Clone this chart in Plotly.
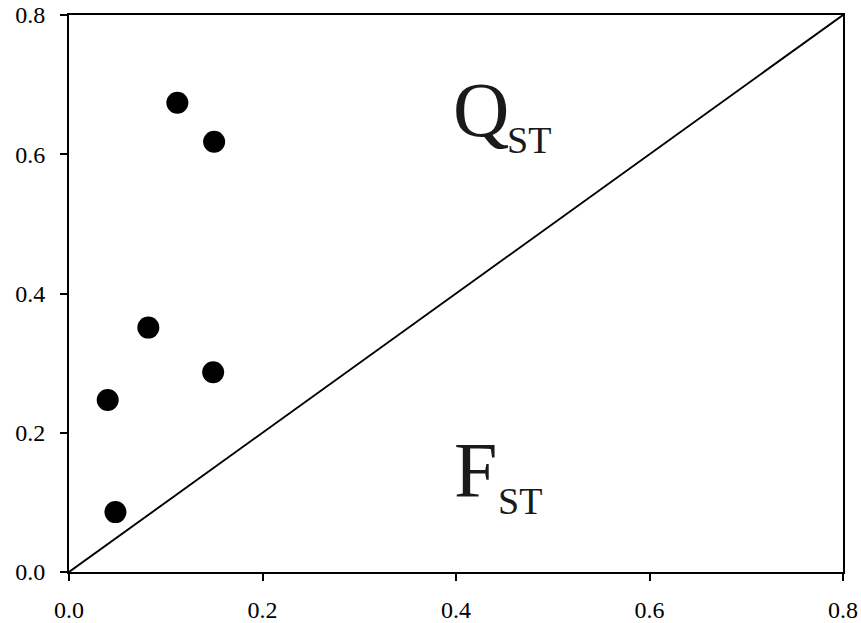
import plotly.graph_objects as go

# Population values: F_ST (x) against Q_ST (y)
fst = [0.112, 0.150, 0.082, 0.149, 0.040, 0.048]
qst = [0.674, 0.618, 0.351, 0.287, 0.247, 0.086]

# 1:1 reference line
line_x = [0.0, 0.8]
line_y = [0.0, 0.8]

tick_vals = [0.0, 0.2, 0.4, 0.6, 0.8]
tick_text = ["0.0", "0.2", "0.4", "0.6", "0.8"]

font_family = "Liberation Serif, Times New Roman, serif"

fig = go.Figure()
fig.add_trace(go.Scatter(
    x=line_x, y=line_y, mode="lines",
    line=dict(color="black", width=1.9),
    hoverinfo="skip", showlegend=False, cliponaxis=False,
))
fig.add_trace(go.Scatter(
    x=fst, y=qst, mode="markers",
    marker=dict(color="black", size=22, line=dict(width=0)),
    showlegend=False,
))

axis_common = dict(
    range=[0, 0.8],
    tickmode="array",
    tickvals=tick_vals,
    ticktext=tick_text,
    ticks="outside",
    ticklen=7,
    tickwidth=2,
    tickcolor="black",
    showline=True,
    linecolor="black",
    linewidth=2,
    mirror=True,
    showgrid=False,
    zeroline=False,
    automargin=False,
    tickfont=dict(family=font_family, size=24, color="black"),
)
fig.update_xaxes(**axis_common, ticklabelstandoff=8)
fig.update_yaxes(**axis_common, ticklabelstandoff=10)

big = dict(family=font_family, size=78, color="#1a1a1a")
small = dict(family=font_family, size=38, color="#1a1a1a")

labels = [
    ("Q", 0.395, 0.664, big),
    ("ST", 0.4505, 0.621, small),
    ("F", 0.396, 0.147, big),
    ("ST", 0.4413, 0.1013, small),
]
for text, x, y, f in labels:
    fig.add_annotation(
        x=x, y=y, xref="x", yref="y", text=text, showarrow=False,
        xanchor="left", yanchor="middle", font=f,
    )

fig.update_layout(
    width=861, height=623,
    margin=dict(l=69, r=18, t=15, b=51),
    paper_bgcolor="white", plot_bgcolor="white",
    font=dict(family=font_family),
)

fig.write_html("out.html")
